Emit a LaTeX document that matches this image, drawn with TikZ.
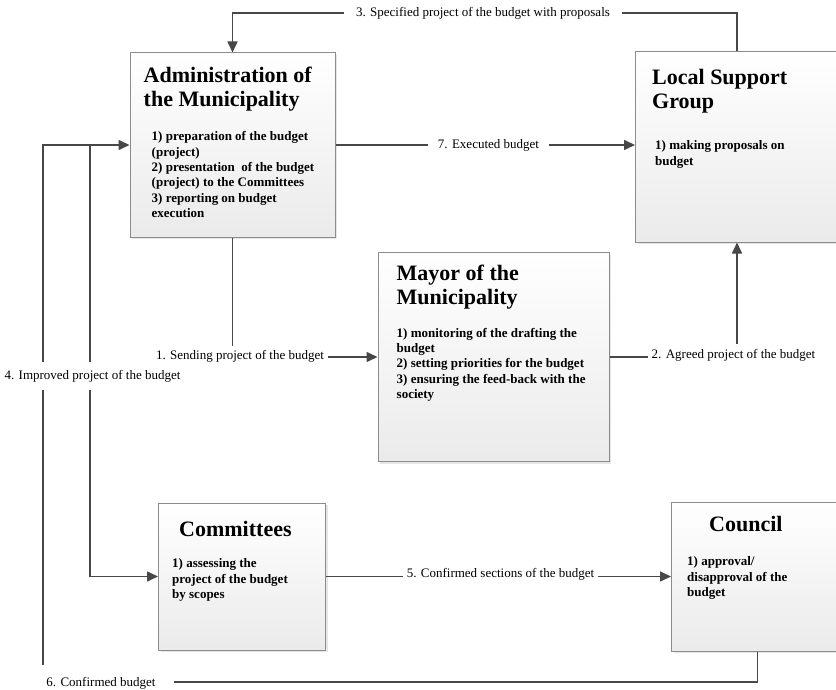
\documentclass[tikz,border=0pt]{standalone}
\usepackage{fontspec}
\setmainfont{Liberation Serif}
\usetikzlibrary{arrows.meta,positioning,shadows}

\begin{document}
\begin{tikzpicture}[x=1pt,y=-1pt,>={Triangle[length=11pt,width=10pt]},
  box/.style   ={rectangle,inner sep=0pt,draw=black!45,line width=1pt,
                 top color=white,bottom color=black!8,
                 drop shadow={opacity=0.2,shadow xshift=2pt,shadow yshift=-2pt}},
  ttl/.style   ={inner sep=0pt,align=left,font=\bfseries\fontsize{22}{24}\selectfont},
  itm/.style   ={inner sep=0pt,align=left,font=\bfseries\fontsize{13}{15.3}\selectfont},
  conn/.style  ={draw=black!72,line width=1.6pt},
  lbl/.style   ={fill=white,inner xsep=4pt,inner ysep=5pt,font=\fontsize{13}{15}\selectfont}]
  \useasboundingbox (0,0) rectangle (836,690);

  % boxes
  \node[box,minimum width=205pt,minimum height=184pt]   (admin)   at (232.5,145) {};
  \node[box,minimum width=203pt,minimum height=190pt]   (lsg)     at (737,147)   {};
  \node[box,minimum width=231pt,minimum height=209pt]   (mayor)   at (493.5,357) {};
  \node[box,minimum width=167pt,minimum height=147pt]   (comm)    at (242,576.5) {};
  \node[box,minimum width=172pt,minimum height=149pt]   (council) at (757.5,576.5) {};

  % texts in the boxes
  \node[ttl] (admint) [below right=14pt and 14pt of admin.north west] {Administration of\\the Municipality};
  \node[itm] (admini) [below right=79pt and 22pt of admin.north west] {1) preparation of the budget\\(project)\\2) presentation \ of the budget\\(project) to the Committees\\3) reporting on budget\\execution};
  \node[ttl] (lsgt)   [below right=18pt and 17pt of lsg.north west]   {Local Support\\Group};
  \node[itm] (lsgi)   [below right=89pt and 20pt of lsg.north west]   {1) making proposals on\\budget};
  \node[ttl] (mayort) [below right=13pt and 19pt of mayor.north west] {Mayor of the\\Municipality};
  \node[itm] (mayori) [below right=76pt and 19pt of mayor.north west] {1) monitoring of the drafting the\\budget\\2) setting priorities for the budget\\3) ensuring the feed-back with the\\society};
  \node[ttl] (commt)  [below right=19pt and 21pt of comm.north west]  {Committees};
  \node[itm] (commi)  [below right=56pt and 14pt of comm.north west]  {1) assessing the\\project of the budget\\by scopes};
  \node[ttl] (councilt) [below right=15pt and 38pt of council.north west] {Council};
  \node[itm] (councili) [below right=55pt and 16pt of council.north west] {1) approval/\\disapproval of the\\budget};

  % connectors
  \coordinate (c3) at (483,13);
  \coordinate (c6) at (43,682);
  \coordinate (c4) at (90,145);
  \draw[conn,->] (lsg.north) |- (c3) -| (admin.north);
  \draw[conn,->] (admin.east) -- (lsg.west |- admin.east);
  \draw[conn,->] (admin.south) |- (mayor.west);
  \draw[conn,->] (mayor.east) -| (lsg.south);
  \draw[conn,->] (comm.east) -- (council.west |- comm.east);
  \draw[conn,->] (council.south) |- (c6) |- (admin.west);
  \draw[conn,->] (c4) |- (comm.west);

  % labels
  \node[lbl] (l1) at (240,356.5) {1. Sending project of the budget};
  \node[lbl] (l2) at (733.5,355) {2. Agreed project of the budget};
  \node[lbl,inner xsep=12pt] (l3) at (483,13) {3. Specified project of the budget with proposals};
  \node[lbl,inner ysep=8pt] (l4) at (92.5,376) {4. Improved project of the budget};
  \node[lbl] (l5) at (500.5,574) {5. Confirmed sections of the budget};
  \node[lbl,inner xsep=18pt,minimum height=36pt] (l6) at (101,683) {6. Confirmed budget};
  \node[lbl,inner xsep=10pt] (l7) at (488.5,145) {7. Executed budget};
\end{tikzpicture}
\end{document}
